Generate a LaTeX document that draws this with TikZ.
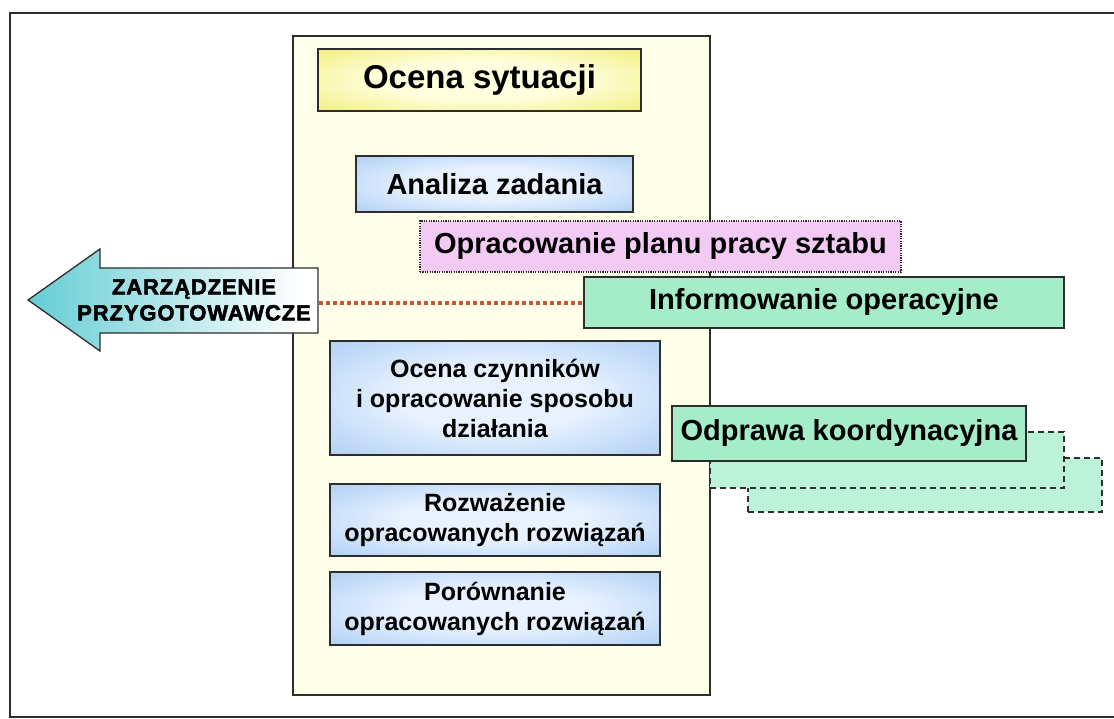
\documentclass[tikz,border=0pt]{standalone}
\usepackage{fontspec}
\setmainfont{Liberation Sans}
\newfontfamily\heavyfont{Liberation Sans}[BoldFeatures={FakeBold=2.5,LetterSpace=4}]
\usetikzlibrary{calc}

\definecolor{frameC}{RGB}{45,45,45}
\definecolor{panelC}{RGB}{255,255,234}
\definecolor{yelEdge}{RGB}{236,230,80}
\definecolor{yelMid}{RGB}{255,255,222}
\definecolor{bluEdge}{RGB}{150,192,240}
\definecolor{bluMid}{RGB}{232,242,255}
\definecolor{pinkC}{RGB}{243,202,243}
\definecolor{mintC}{RGB}{165,236,200}
\definecolor{mintPale}{RGB}{188,243,216}
\definecolor{tealD}{RGB}{25,165,180}
\definecolor{tealM}{RGB}{110,208,215}
\definecolor{dotRed}{RGB}{200,85,60}

\pgfdeclareradialshading{glowyellow}{\pgfpoint{0bp}{0bp}}{color(0bp)=(yelMid); color(15bp)=(yelMid); color(46bp)=(yelEdge); color(50bp)=(yelEdge)}
\pgfdeclareradialshading{glowblue}{\pgfpoint{0bp}{0bp}}{color(0bp)=(bluMid); color(14bp)=(bluMid); color(46bp)=(bluEdge); color(50bp)=(bluEdge)}
\pgfdeclarehorizontalshading{arrowshade}{100bp}{color(0bp)=(tealD); color(28bp)=(tealM); color(72bp)=(white); color(100bp)=(white)}

\tikzset{
  boxbase/.style={draw=frameC, line width=1.4bp, inner sep=0pt, font=\bfseries},
  bigtitle/.style={boxbase, shading=glowyellow,
    font=\bfseries\fontsize{33bp}{36bp}\selectfont},
  bluebox/.style={boxbase, shading=glowblue,
    font=\bfseries\fontsize{29bp}{32bp}\selectfont},
  bluemulti/.style={boxbase, shading=glowblue, align=center,
    font=\bfseries\fontsize{25bp}{30bp}\selectfont},
  pinkbox/.style={boxbase, fill=pinkC, line width=1.2bp,
    dash pattern=on 1.2bp off 1.2bp,
    font=\bfseries\fontsize{29bp}{32bp}\selectfont},
  mintbox/.style={boxbase, fill=mintC,
    font=\bfseries\fontsize{29bp}{32bp}\selectfont},
  echobox/.style={draw=frameC, line width=1.5bp, fill=mintPale,
    dash pattern=on 6bp off 4bp, inner sep=0pt},
  arrowtext/.style={align=center, inner sep=0pt,
    font=\heavyfont\bfseries\fontsize{22bp}{26bp}\selectfont},
  dotline/.style={draw=dotRed, line width=4bp, dash pattern=on 4bp off 3bp}
}

\begin{document}
\begin{tikzpicture}[x=1bp, y=-1bp]
  \useasboundingbox (0,0) rectangle (1114,719);
  \fill[white] (0,0) rectangle (1114,719);

  % outer frame (open on the right)
  \draw[frameC, line width=2bp] (1120,13) -- (10,13) -- (10,717) -- (1120,717);

  % central panel
  \node[draw=frameC, line width=1.5bp, fill=panelC, inner sep=0pt,
        minimum width=417bp, minimum height=659bp] (panel) at (501.5,365.5) {};

  % stacked echoes behind the briefing box
  \node[echobox, minimum width=354bp, minimum height=54bp] (echoB) at (925,485) {};
  \node[echobox, minimum width=354bp, minimum height=56bp] (echoA) at (887,460) {};

  % process steps
  \node[bigtitle, minimum width=323bp, minimum height=62bp] (sit) at (479.5,80) {Ocena sytuacji};
  \node[bluebox, minimum width=277bp, minimum height=56bp] (task) at (494.5,184) {Analiza zadania};
  \node[pinkbox, minimum width=481bp, minimum height=51bp] (plan) at (660.5,246.5) {Opracowanie planu pracy sztabu};
  \node[mintbox, minimum width=480bp, minimum height=51bp] (info) at (824,302.5) {Informowanie operacyjne};
  \node[bluemulti, minimum width=330bp, minimum height=114bp] (factors) at (495,398)
    {Ocena czynników\\i opracowanie sposobu\\działania};
  \node[bluemulti, minimum width=330bp, minimum height=72bp] (weigh) at (495,520)
    {Rozważenie\\opracowanych rozwiązań};
  \node[bluemulti, minimum width=330bp, minimum height=73bp] (compare) at (495,608.5)
    {Porównanie\\opracowanych rozwiązań};
  \node[mintbox, minimum width=354bp, minimum height=55bp] (brief) at (849,433.5) {Odprawa koordynacyjna};

  % outgoing order arrow
  \path[draw=frameC, line width=1.3bp, shading=arrowshade]
    (28,300) -- (100,249) -- (100,268) -- (318,268) -- (318,333)
    -- (100,333) -- (100,351) -- cycle;
  \node[arrowtext] (order) at (194,300) {ZARZĄDZENIE\\PRZYGOTOWAWCZE};
  \coordinate (orderend) at (319,302.5);

  % link from the order to operational information
  \draw[dotline] (orderend) -- (info.west);
\end{tikzpicture}
\end{document}
